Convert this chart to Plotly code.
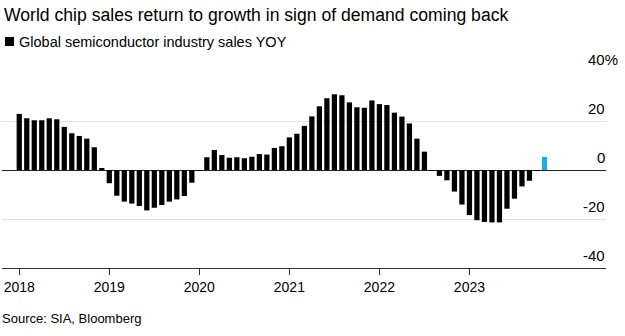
import plotly.graph_objects as go

# ---- data ----
years = ["2018", "2019", "2020", "2021", "2022", "2023"]
yoy_2018 = [22.9, 21.1, 20.3, 20.3, 21.1, 20.7, 17.6, 15.0, 13.9, 12.8, 9.3, 0.7]
yoy_2019 = [-5.4, -10.5, -12.9, -13.7, -14.7, -16.5, -15.4, -14.3, -12.9, -12.0, -10.6, -5.2]
yoy_2020 = [-0.3, 5.2, 8.2, 6.1, 5.0, 5.2, 4.8, 5.4, 6.5, 6.3, 9.0, 9.7]
yoy_2021 = [13.3, 14.8, 18.0, 21.9, 26.0, 29.3, 30.9, 30.5, 27.6, 25.6, 25.4, 28.4]
yoy_2022 = [26.9, 26.5, 23.4, 21.8, 19.0, 12.8, 7.5, -0.1, -2.4, -4.2, -8.8, -14.1]
yoy_2023 = [-18.4, -20.5, -21.2, -21.4, -21.4, -15.8, -11.7, -6.7, -4.4, -0.4, 5.3]
y_tick_vals = [40, 20, 0, -20, -40]
y_tick_text = ["40%", "20", "0", "-20", "-40"]

values = yoy_2018 + yoy_2019 + yoy_2020 + yoy_2021 + yoy_2022 + yoy_2023
months = list(range(len(values)))  # 0 = Jan 2018
year_pos = [12 * i for i in range(len(years))]

BLACK = "#000000"
BLUE = "#1ea8f0"
colors = [BLACK] * (len(values) - 1) + [BLUE]

W, H = 625, 336
L, R, T, B = 2, 19, 72, 68
PW, PH = W - L - R, H - T - B


def px_x(px):
    return (px - L) / PW


def px_y(py):
    return (H - B - py) / PH


FONT = "Liberation Sans, Arial, sans-serif"

fig = go.Figure()
fig.add_trace(go.Bar(
    x=months, y=values, width=0.7,
    marker=dict(color=colors, line=dict(width=0)),
    showlegend=False, hoverinfo="skip",
))

annotations = []
# title
annotations.append(dict(
    text="World chip sales return to growth in sign of demand coming back",
    xref="paper", yref="paper", x=px_x(2), y=px_y(15), xanchor="left", yanchor="middle",
    showarrow=False, font=dict(family=FONT, size=17.6, color="#000")))
# legend text
annotations.append(dict(
    text="Global semiconductor industry sales YOY",
    xref="paper", yref="paper", x=px_x(17), y=px_y(41.5), xanchor="left", yanchor="middle",
    showarrow=False, font=dict(family=FONT, size=14.5, color="#000")))
# source
annotations.append(dict(
    text="Source: SIA, Bloomberg",
    xref="paper", yref="paper", x=px_x(0), y=px_y(318), xanchor="left", yanchor="middle",
    showarrow=False, font=dict(family=FONT, size=13, color="#000")))
# y tick labels above gridlines (the % of the top label hangs past the numbers)
for v, t in zip(y_tick_vals, y_tick_text):
    shift = 14 if t.endswith("%") else 1
    annotations.append(dict(
        text=t, xref="paper", yref="y", x=1, y=v, xanchor="right", yanchor="middle",
        yshift=13, xshift=shift, showarrow=False,
        font=dict(family=FONT, size=15, color="#000")))

shapes = [dict(type="rect", xref="paper", yref="paper",
               x0=px_x(5), x1=px_x(14), y0=px_y(46), y1=px_y(37),
               fillcolor="#000", line=dict(width=0))]

fig.update_layout(
    width=W, height=H,
    margin=dict(l=L, r=R, t=T, b=B, pad=0),
    paper_bgcolor="white", plot_bgcolor="white",
    annotations=annotations, shapes=shapes,
    bargap=0.3,
    xaxis=dict(
        range=[-2.3, 78.2], tickvals=year_pos, ticktext=years,
        ticks="outside", ticklen=6, tickcolor="#333", tickwidth=1,
        showline=True, linecolor="#333", linewidth=1,
        showgrid=False, zeroline=False,
        tickfont=dict(family=FONT, size=14, color="#000"),
    ),
    yaxis=dict(
        range=[-40, 40], tickvals=y_tick_vals, showticklabels=False,
        showgrid=True, gridcolor="#e4e4e4", gridwidth=1,
        zeroline=True, zerolinecolor="#222", zerolinewidth=1,
        ticks="",
    ),
)

fig.write_html("out.html")
